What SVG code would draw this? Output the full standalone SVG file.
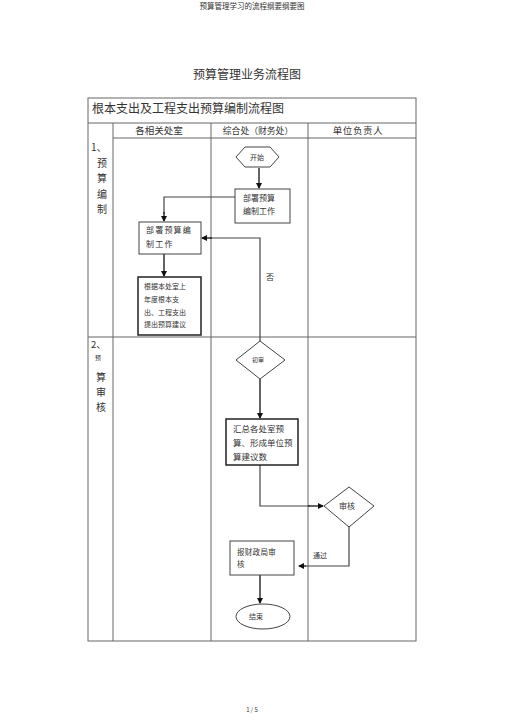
<svg xmlns="http://www.w3.org/2000/svg" width="505" height="714" viewBox="0 0 505 714">
<defs>
<marker id="ah" markerWidth="6" markerHeight="6" refX="5" refY="3" orient="auto" markerUnits="userSpaceOnUse">
<path d="M0,0 L6,3 L0,6 Z" fill="#111"/>
</marker>
<style>
text{font-family:"Noto Sans CJK SC","Noto Sans CJK JP",sans-serif;fill:#333}
.grid{stroke:#666;stroke-width:1;fill:none}
.box{fill:#fff;stroke:#444;stroke-width:1}
.bold{fill:#fff;stroke:#222;stroke-width:1.5}
.con{stroke:#444;stroke-width:1.2;fill:none}
.arr{stroke:#222;stroke-width:1.4;fill:none;marker-end:url(#ah)}
.t7{font-size:7px}
.t8{font-size:8px}
</style>
</defs>
<rect width="505" height="714" fill="#fff"/>
<text x="252" y="9" font-size="7.5" text-anchor="middle" fill="#666">预算管理学习的流程纲要纲要图</text>
<text x="247" y="79" font-size="12" text-anchor="middle">预算管理业务流程图</text>

<g id="table">
<rect class="grid" x="88" y="98" width="328" height="543" stroke="#777" stroke-width="1.3"/>
<line class="grid" x1="88" y1="123" x2="416" y2="123"/>
<line class="grid" x1="113" y1="138" x2="416" y2="138"/>
<line class="grid" x1="88" y1="337" x2="416" y2="337"/>
<line class="grid" x1="113" y1="123" x2="113" y2="641"/>
<line class="grid" x1="211" y1="123" x2="211" y2="641"/>
<line class="grid" x1="308" y1="123" x2="308" y2="641"/>
<text x="92" y="113" font-size="12">根本支出及工程支出预算编制流程图</text>
<text x="159" y="134" font-size="9.5" text-anchor="middle">各相关处室</text>
<text x="258" y="134" font-size="8.8" text-anchor="middle">综合处（财务处）</text>
<text x="358" y="134" font-size="9.5" text-anchor="middle" letter-spacing="0.6">单位负责人</text>
<text x="91" y="151" font-size="10">1、</text>
<text x="102" y="167" font-size="10" text-anchor="middle">预</text>
<text x="102" y="182" font-size="10" text-anchor="middle">算</text>
<text x="102" y="198" font-size="10" text-anchor="middle">编</text>
<text x="102" y="213" font-size="10" text-anchor="middle">制</text>
<text x="91" y="348" font-size="9.5">2、</text>
<text x="98" y="360" font-size="6" text-anchor="middle">预</text>
<text x="101" y="381" font-size="10" text-anchor="middle">算</text>
<text x="101" y="396" font-size="10" text-anchor="middle">审</text>
<text x="101" y="411" font-size="10" text-anchor="middle">核</text>
</g>

<g id="connectors">
<line class="arr" x1="259" y1="168" x2="259" y2="188"/>
<polyline class="con" points="235,197 164,197 164,214"/>
<line class="arr" x1="164" y1="212" x2="164" y2="221"/>
<line class="arr" x1="164" y1="254" x2="164" y2="276"/>
<polyline class="con" points="260,341 260,238 210,238"/>
<line class="arr" x1="212" y1="238" x2="202" y2="238"/>
<line class="arr" x1="260" y1="379" x2="260" y2="418"/>
<polyline class="con" points="260,465 260,506 310,506"/>
<line class="arr" x1="308" y1="506" x2="323" y2="506"/>
<polyline class="con" points="349,527 349,566 305,566"/>
<line class="arr" x1="306" y1="566" x2="299" y2="566"/>
<line class="arr" x1="260" y1="575" x2="260" y2="603"/>
<text x="266" y="280" class="t8">否</text>
<text x="313" y="558" class="t7">通过</text>
</g>

<g id="start">
<polygon class="box" points="236,157 245,147 270,147 279,157 270,167 245,167"/>
<text x="257" y="160" class="t7" text-anchor="middle">开始</text>
</g>
<g id="deploy1">
<rect class="box" x="235" y="189" width="55" height="34"/>
<text x="243" y="201" class="t8">部署预算</text>
<text x="243" y="214" class="t8">编制工作</text>
</g>
<g id="deploy2">
<rect class="box" x="139" y="222" width="62" height="32"/>
<text x="146" y="233" class="t8" letter-spacing="1.2">部署预算编</text>
<text x="146" y="247" class="t8" letter-spacing="1.2">制工作</text>
</g>
<g id="propose">
<rect class="bold" x="138" y="277" width="63" height="58"/>
<text x="144" y="289" class="t7">根据本处室上</text>
<text x="144" y="302" class="t7">年度根本支</text>
<text x="144" y="315" class="t7">出、工程支出</text>
<text x="144" y="327" class="t7">提出预算建议</text>
</g>
<g id="prelim">
<polygon class="box" points="260,341 285,360 260,379 236,360"/>
<text x="258" y="362" font-size="6" text-anchor="middle">初审</text>
</g>
<g id="summary">
<rect class="bold" x="226" y="419" width="72" height="46"/>
<text x="233" y="432" font-size="8.5">汇总各处室预</text>
<text x="233" y="446" font-size="8.5">算、形成单位预</text>
<text x="233" y="460" font-size="8.5">算建议数</text>
</g>
<g id="review">
<polygon class="box" points="324,506 349,487 374,506 349,527"/>
<text x="347" y="509" class="t8" text-anchor="middle">审核</text>
</g>
<g id="finance">
<rect class="box" x="230" y="541" width="64" height="34"/>
<text x="237" y="555" font-size="7.5" letter-spacing="0.3">报财政局审</text>
<text x="237" y="567" font-size="7.5">核</text>
</g>
<g id="end">
<ellipse class="box" cx="263" cy="616.5" rx="27" ry="12.5"/>
<text x="256" y="619" class="t7" text-anchor="middle">结束</text>
</g>
<text x="252" y="712" font-size="6" text-anchor="middle" fill="#666">1 / 5</text>
</svg>
